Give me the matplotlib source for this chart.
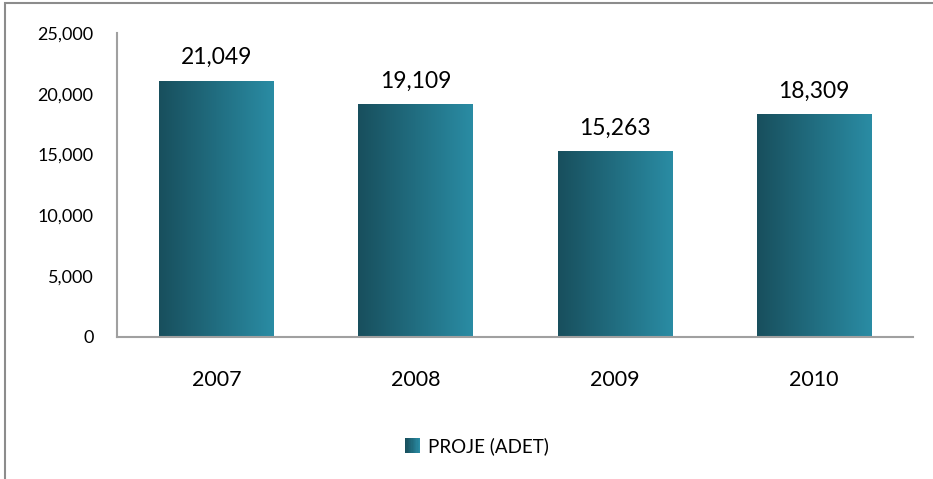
import numpy as np
import matplotlib
matplotlib.use("Agg")
import matplotlib.pyplot as plt
from matplotlib.patches import Rectangle, Patch
from matplotlib.colors import LinearSegmentedColormap
from matplotlib.ticker import FuncFormatter
from matplotlib.legend_handler import HandlerBase

years = ["2007", "2008", "2009", "2010"]
proje = [21049, 19109, 15263, 18309]
series_name = "PROJE (ADET)"

plt.rcParams['font.family'] = ['Lato', 'DejaVu Sans']

dark = "#184f5d"
light = "#2a8ca4"
cmap = LinearSegmentedColormap.from_list("teal", [dark, light])


# legend square with the same left-to-right gradient as the bars
class GradientHandler(HandlerBase):
    def create_artists(self, legend, orig_handle, xdescent, ydescent,
                       width, height, fontsize, trans):
        n = 12
        out = []
        for i in range(n):
            r = Rectangle((-xdescent + width * i / n, -ydescent), width / n * 1.05, height,
                          facecolor=cmap(i / (n - 1)), edgecolor="none", transform=trans)
            out.append(r)
        return out


fig = plt.figure(figsize=(9.33, 4.79), dpi=100)
ax = fig.add_axes([0.1254, 0.2965, 0.8532, 0.6346])

x = np.arange(len(years))
bars = ax.bar(x, proje, width=0.573, color="none", edgecolor="none")

grad = np.linspace(0, 1, 256).reshape(1, -1)
for b, v in zip(bars, proje):
    x0 = b.get_x()
    w = b.get_width()
    ax.imshow(grad, cmap=cmap, aspect="auto", extent=[x0, x0 + w, 0, b.get_height()],
              zorder=2, interpolation="bicubic")
    ax.text(x0 + w / 2, v + 1050, f"{v:,}", ha="center", va="bottom", fontsize=16.5)

ax.set_xlim(-0.5, len(years) - 0.5)
ax.set_ylim(0, 25000)
ax.set_yticks(range(0, 25001, 5000))
ax.yaxis.set_major_formatter(FuncFormatter(lambda v, p: f"{int(v):,}"))
ax.set_xticks(x)
ax.set_xticklabels(years, fontsize=15.5)
ax.tick_params(axis="y", labelsize=13, length=0, pad=17)
ax.tick_params(axis="x", length=0, pad=24)

for s in ["top", "right"]:
    ax.spines[s].set_visible(False)
for s in ["left", "bottom"]:
    ax.spines[s].set_color("#a0a0a0")
    ax.spines[s].set_linewidth(1.5)

handle = Patch(facecolor=dark, edgecolor="none")
fig.legend([handle], [series_name], loc="center", bbox_to_anchor=(0.511, 0.069),
           frameon=False, fontsize=13.5, handlelength=0.8, handleheight=0.8,
           handletextpad=0.4, handler_map={Patch: GradientHandler()})

fig.patches.append(Rectangle((5 / 933, -0.5), 1.2, 1 - 3 / 479 + 0.5,
                             transform=fig.transFigure, fill=False,
                             edgecolor="#8c8c8c", linewidth=1.5))

fig.savefig("out.png", dpi=100)
